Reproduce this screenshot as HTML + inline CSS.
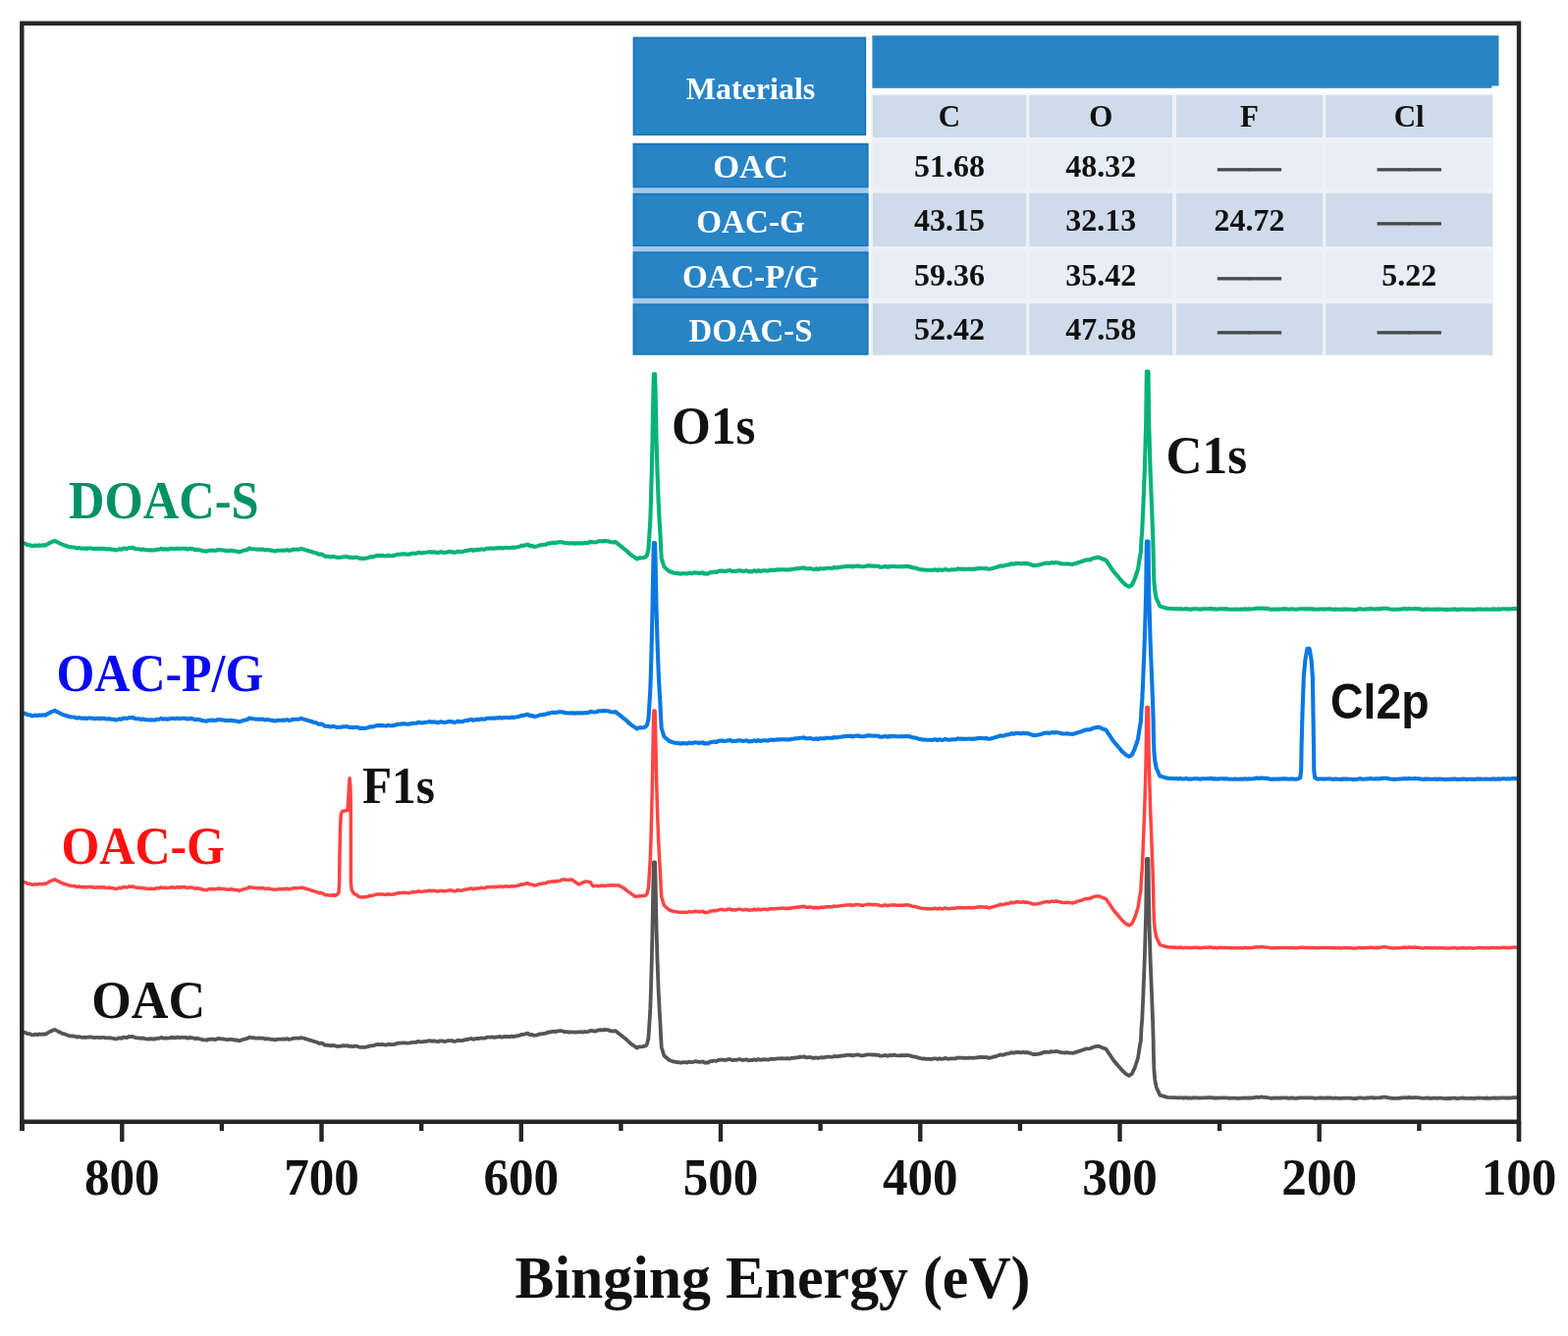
<!DOCTYPE html>
<html><head><meta charset="utf-8"><title>XPS survey spectra</title>
<style>
html,body{margin:0;padding:0;background:#fff;}
body{width:1597px;height:1361px;overflow:hidden;}
svg{display:block;}
</style></head>
<body>
<svg width="1597" height="1361" viewBox="0 0 1597 1361">
<rect width="1597" height="1361" fill="#fff"/>
<g id="table">
<rect x="888.4" y="36.2" width="631" height="53.6" fill="#2884c5"/>
<rect x="1519" y="36.2" width="7.5" height="51.3" fill="#2884c5"/>
<rect x="645.6" y="38.6" width="235.6" height="98.5" fill="#2884c5" stroke="#1a79be" stroke-width="2"/>
<rect x="887" y="95.5" width="634" height="267" fill="#eef2f8"/>
<rect x="889.0" y="97" width="156.0" height="43" fill="#cfdbea"/>
<rect x="1048.5" y="97" width="145.5" height="43" fill="#cfdbea"/>
<rect x="1198.0" y="97" width="149.0" height="43" fill="#cfdbea"/>
<rect x="1350.5" y="97" width="169.5" height="43" fill="#cfdbea"/>
<rect x="644.6" y="145.5" width="240" height="216.5" fill="#a9c8e6"/>
<rect x="645.6" y="147.0" width="238" height="43.3" fill="#2884c5" stroke="#1a79be" stroke-width="2"/>
<rect x="889.0" y="146.0" width="156.0" height="45.3" fill="#e8eef7"/>
<rect x="1048.5" y="146.0" width="145.5" height="45.3" fill="#e8eef7"/>
<rect x="1198.0" y="146.0" width="149.0" height="45.3" fill="#e8eef7"/>
<rect x="1350.5" y="146.0" width="169.5" height="45.3" fill="#e8eef7"/>
<rect x="645.6" y="197.8" width="238" height="52.2" fill="#2884c5" stroke="#1a79be" stroke-width="2"/>
<rect x="889.0" y="196.8" width="156.0" height="54.2" fill="#cfdbea"/>
<rect x="1048.5" y="196.8" width="145.5" height="54.2" fill="#cfdbea"/>
<rect x="1198.0" y="196.8" width="149.0" height="54.2" fill="#cfdbea"/>
<rect x="1350.5" y="196.8" width="169.5" height="54.2" fill="#cfdbea"/>
<rect x="645.6" y="257.3" width="238" height="45.5" fill="#2884c5" stroke="#1a79be" stroke-width="2"/>
<rect x="889.0" y="256.3" width="156.0" height="47.5" fill="#e8eef7"/>
<rect x="1048.5" y="256.3" width="145.5" height="47.5" fill="#e8eef7"/>
<rect x="1198.0" y="256.3" width="149.0" height="47.5" fill="#e8eef7"/>
<rect x="1350.5" y="256.3" width="169.5" height="47.5" fill="#e8eef7"/>
<rect x="645.6" y="310.3" width="238" height="50.3" fill="#2884c5" stroke="#1a79be" stroke-width="2"/>
<rect x="889.0" y="309.3" width="156.0" height="52.3" fill="#cfdbea"/>
<rect x="1048.5" y="309.3" width="145.5" height="52.3" fill="#cfdbea"/>
<rect x="1198.0" y="309.3" width="149.0" height="52.3" fill="#cfdbea"/>
<rect x="1350.5" y="309.3" width="169.5" height="52.3" fill="#cfdbea"/>
</g>
<g font-family='"Liberation Serif","Times New Roman",serif' font-weight="bold" text-anchor="middle" fill="#111">
<text x="764.5" y="101" fill="#fff" font-size="32">Materials</text>
<text x="967.0" y="128.5" font-size="31">C</text>
<text x="1121.2" y="128.5" font-size="31">O</text>
<text x="1272.5" y="128.5" font-size="31">F</text>
<text x="1435.2" y="128.5" font-size="31">Cl</text>
<text transform="translate(764.5 181.0) scale(1.000 1)" fill="#fff" font-size="34.5">OAC</text>
<text x="967.0" y="180.2" font-size="32">51.68</text>
<text x="1121.2" y="180.2" font-size="32">48.32</text>
<text transform="translate(764.5 237.2) scale(0.960 1)" fill="#fff" font-size="34.5">OAC-G</text>
<text x="967.0" y="235.1" font-size="32">43.15</text>
<text x="1121.2" y="235.1" font-size="32">32.13</text>
<text x="1272.5" y="235.1" font-size="32">24.72</text>
<text transform="translate(764.5 292.5) scale(0.955 1)" fill="#fff" font-size="34.5">OAC-P/G</text>
<text x="967.0" y="290.7" font-size="32">59.36</text>
<text x="1121.2" y="290.7" font-size="32">35.42</text>
<text x="1435.2" y="290.7" font-size="32">5.22</text>
<text transform="translate(764.5 348.2) scale(0.953 1)" fill="#fff" font-size="34.5">DOAC-S</text>
<text x="967.0" y="345.7" font-size="32">52.42</text>
<text x="1121.2" y="345.7" font-size="32">47.58</text>
<text x="1272.5" y="180.2" font-size="32" fill="#4a4a4a" stroke="#4a4a4a" stroke-width="0.9">——</text>
<text x="1435.2" y="180.2" font-size="32" fill="#4a4a4a" stroke="#4a4a4a" stroke-width="0.9">——</text>
<text x="1435.2" y="235.1" font-size="32" fill="#4a4a4a" stroke="#4a4a4a" stroke-width="0.9">——</text>
<text x="1272.5" y="290.7" font-size="32" fill="#4a4a4a" stroke="#4a4a4a" stroke-width="0.9">——</text>
<text x="1272.5" y="345.7" font-size="32" fill="#4a4a4a" stroke="#4a4a4a" stroke-width="0.9">——</text>
<text x="1435.2" y="345.7" font-size="32" fill="#4a4a4a" stroke="#4a4a4a" stroke-width="0.9">——</text>
</g>
<g fill="none" stroke-linejoin="round" stroke-linecap="round">
<path d="M22.5 1051.5L23.8 1051.6L26.0 1052.0L28.1 1053.2L30.3 1053.2L32.5 1054.3L34.4 1054.1L36.2 1053.6L38.1 1054.1L40.0 1053.4L42.1 1053.8L44.2 1053.3L46.3 1053.6L48.4 1052.3L50.5 1051.1L52.2 1050.2L54.0 1049.6L55.7 1048.9L58.0 1050.1L60.3 1051.2L62.6 1052.4L64.6 1053.2L66.6 1053.7L68.6 1054.5L70.6 1055.1L72.6 1055.4L74.5 1055.5L76.5 1055.8L78.4 1056.6L80.3 1056.0L82.3 1056.6L84.2 1056.8L86.1 1056.6L88.1 1056.9L90.0 1056.5L92.0 1056.5L93.9 1056.6L95.9 1057.2L97.9 1056.9L99.8 1056.8L101.8 1057.1L103.8 1056.9L105.7 1056.8L107.7 1057.4L109.7 1057.4L111.7 1057.1L113.7 1057.7L115.7 1057.8L117.7 1058.5L119.7 1058.1L121.6 1057.3L123.6 1057.9L125.5 1056.6L127.5 1056.8L129.4 1057.0L131.4 1056.0L133.3 1056.2L135.3 1055.9L137.3 1056.9L139.4 1057.3L141.4 1057.3L143.4 1057.9L145.4 1057.4L147.5 1058.1L149.5 1058.3L151.5 1058.5L153.6 1058.2L155.7 1058.5L157.8 1058.5L159.9 1057.7L161.9 1057.8L164.0 1056.9L166.1 1057.6L168.2 1057.3L170.3 1057.6L172.4 1057.4L174.5 1056.8L176.6 1057.0L178.6 1057.3L180.7 1056.6L182.8 1057.2L184.9 1056.8L187.0 1056.8L189.1 1056.8L191.1 1057.7L193.2 1056.9L195.3 1057.1L197.2 1057.5L199.1 1058.3L200.9 1057.6L202.8 1058.3L204.7 1058.6L206.6 1059.3L208.4 1059.4L210.3 1059.7L212.2 1058.8L214.2 1058.8L216.1 1058.5L218.1 1059.0L220.0 1058.8L222.0 1058.0L224.0 1058.2L225.9 1058.4L227.9 1058.5L229.9 1058.9L231.9 1059.2L233.9 1058.9L235.9 1058.8L237.9 1059.4L239.8 1059.5L241.8 1059.8L243.8 1060.4L245.8 1059.6L247.9 1058.8L249.9 1058.4L251.9 1057.9L254.0 1056.6L256.0 1057.1L258.0 1057.2L260.0 1057.5L262.0 1057.7L264.0 1057.5L266.0 1057.7L268.0 1057.6L270.0 1058.5L272.0 1058.1L274.0 1058.3L276.0 1058.8L278.0 1058.9L280.0 1059.4L282.1 1058.9L284.1 1058.7L286.2 1058.7L288.2 1058.5L290.3 1058.7L292.3 1058.1L294.4 1058.9L296.5 1058.5L298.5 1057.8L300.6 1057.7L302.6 1057.7L304.7 1057.6L306.7 1057.1L308.8 1057.5L310.8 1058.1L312.7 1058.7L314.7 1059.3L316.6 1059.8L318.6 1060.5L320.5 1061.1L322.5 1061.5L324.6 1062.8L326.7 1062.6L328.8 1063.0L330.8 1064.7L332.9 1064.8L335.0 1064.9L337.1 1065.4L339.2 1064.8L341.3 1065.4L343.4 1066.0L345.4 1065.8L347.5 1065.7L349.6 1065.2L351.7 1065.3L353.8 1065.1L355.7 1065.9L357.6 1065.8L359.5 1066.2L361.4 1065.7L363.4 1065.7L365.3 1066.5L367.2 1066.9L369.1 1066.8L371.0 1066.9L373.0 1066.6L375.0 1066.2L377.0 1065.3L379.0 1065.4L381.0 1064.9L383.0 1064.2L385.0 1063.9L387.1 1064.1L389.2 1063.9L391.2 1064.3L393.3 1064.5L395.4 1063.7L397.5 1064.2L399.6 1064.1L401.7 1063.9L403.8 1063.1L405.8 1062.7L407.9 1062.6L410.0 1062.4L412.0 1062.3L414.0 1062.6L415.9 1062.7L417.9 1062.4L419.9 1061.8L421.9 1061.8L423.9 1061.8L425.9 1060.8L427.9 1061.3L429.8 1061.4L431.8 1061.0L433.8 1060.8L435.9 1060.5L437.9 1060.1L439.9 1060.8L442.0 1060.3L444.1 1060.9L446.1 1061.1L448.1 1060.4L450.2 1060.4L452.2 1061.0L454.3 1060.8L456.4 1060.1L458.4 1060.1L460.4 1060.1L462.5 1061.0L464.5 1060.6L466.4 1059.6L468.4 1060.2L470.4 1060.2L472.3 1059.6L474.3 1059.0L476.2 1059.0L478.2 1058.3L480.2 1057.9L482.1 1058.9L484.1 1058.2L486.1 1057.9L488.0 1058.1L490.0 1057.3L491.9 1057.7L493.9 1057.6L495.8 1056.7L497.8 1056.7L499.7 1056.6L501.7 1056.5L503.6 1056.8L505.6 1056.3L507.5 1056.4L509.4 1055.9L511.4 1056.7L513.3 1056.0L515.3 1056.0L517.2 1056.0L519.2 1056.3L521.1 1055.6L523.1 1056.1L525.0 1055.5L527.1 1055.2L529.2 1054.8L531.2 1053.8L533.3 1053.9L535.4 1053.2L537.5 1052.6L539.6 1054.1L541.7 1053.9L543.8 1054.9L545.8 1054.7L547.8 1054.1L549.9 1053.4L551.9 1053.2L553.9 1052.8L556.0 1052.7L558.0 1051.5L560.0 1051.6L562.1 1050.9L564.2 1050.7L566.2 1051.0L568.3 1050.4L570.4 1050.2L572.5 1050.2L575.0 1051.1L577.5 1051.2L579.6 1051.5L581.7 1051.3L583.8 1051.4L585.8 1051.6L587.9 1051.3L590.0 1051.4L591.9 1051.2L593.8 1051.5L595.6 1051.0L597.5 1051.1L599.4 1050.9L601.3 1049.9L603.3 1050.2L605.4 1050.5L607.4 1050.3L609.4 1049.3L611.4 1049.2L613.5 1049.4L615.5 1048.9L617.4 1049.2L619.3 1049.2L621.1 1050.0L623.0 1050.3L624.9 1050.5L626.8 1050.1L628.8 1051.7L630.7 1053.2L632.7 1054.6L634.6 1056.3L636.6 1057.8L638.6 1059.5L640.6 1061.5L642.6 1063.3L644.6 1064.6L646.6 1065.9L648.6 1067.5L650.5 1066.4L652.4 1066.4L654.2 1066.2L656.1 1065.9L657.6 1065.3L659.0 1063.5L660.4 1058.0L661.4 1042.9L662.3 1027.9L663.0 1007.8L663.8 977.7L664.5 947.6L665.0 917.5L665.5 892.4L665.9 878.4L667.1 878.4L667.5 892.4L668.0 917.5L668.6 947.6L669.5 977.7L670.6 1007.8L671.6 1027.9L672.5 1042.9L673.2 1058.0L673.8 1067.0L676.4 1075.5L681.7 1080.0L686.0 1081.5L693.7 1082.6L695.7 1082.1L697.8 1082.2L699.8 1082.5L701.9 1081.6L703.9 1082.1L705.9 1081.9L708.0 1081.2L710.0 1081.5L711.8 1081.9L713.7 1081.8L715.5 1081.3L717.3 1082.5L719.2 1082.3L721.0 1082.6L723.1 1081.2L725.1 1081.1L727.2 1080.5L729.2 1081.0L731.3 1080.1L733.4 1079.6L735.4 1079.6L737.5 1079.9L739.6 1079.8L741.7 1079.2L743.8 1079.1L745.8 1080.1L747.9 1079.7L750.0 1079.9L752.1 1079.2L754.2 1079.2L756.2 1080.0L758.3 1079.7L760.4 1079.3L762.5 1080.4L764.5 1080.0L766.4 1080.1L768.4 1079.2L770.4 1080.1L772.4 1079.0L774.3 1079.9L776.3 1079.4L778.3 1079.2L780.3 1079.3L782.2 1079.7L784.2 1078.9L786.2 1078.6L788.2 1079.0L790.1 1078.6L792.1 1078.4L794.1 1078.4L796.1 1078.2L798.0 1078.3L800.0 1078.4L802.1 1078.2L804.2 1078.5L806.3 1077.8L808.4 1077.8L810.4 1077.3L812.5 1077.3L814.6 1076.7L816.7 1076.8L818.8 1076.3L820.8 1077.3L822.9 1077.2L824.9 1077.0L826.9 1077.4L829.0 1078.1L831.0 1077.3L833.1 1078.0L835.2 1077.3L837.2 1077.2L839.3 1077.4L841.4 1076.7L843.5 1076.7L845.6 1076.7L847.7 1076.9L849.8 1075.9L851.8 1076.4L853.9 1076.0L856.0 1075.8L858.1 1075.4L860.1 1075.3L862.2 1074.9L864.3 1074.9L866.4 1074.7L868.4 1075.5L870.5 1074.8L872.6 1074.6L874.6 1074.5L876.7 1075.3L878.8 1075.3L880.9 1074.9L882.9 1074.4L885.0 1074.3L886.9 1074.4L888.8 1074.7L890.6 1074.4L892.5 1074.8L894.4 1074.7L896.2 1075.6L898.1 1075.7L900.0 1075.3L902.1 1074.9L904.2 1075.8L906.2 1075.0L908.3 1075.1L910.4 1074.7L912.5 1075.2L914.6 1075.3L916.7 1075.3L918.8 1075.0L920.8 1075.4L922.9 1074.8L925.0 1075.1L927.1 1075.4L929.2 1076.3L931.2 1076.4L933.3 1076.8L935.4 1077.7L937.5 1078.1L939.4 1078.5L941.4 1078.5L943.3 1078.8L945.2 1078.7L947.2 1078.8L949.1 1079.0L951.0 1078.4L953.0 1078.3L954.9 1079.1L956.8 1078.2L958.8 1078.9L960.8 1078.7L962.9 1077.9L965.0 1078.7L967.1 1078.7L969.2 1078.3L971.2 1078.3L973.3 1078.3L975.4 1077.4L977.5 1077.7L979.6 1077.6L981.7 1077.9L983.8 1077.8L985.8 1077.8L987.9 1077.5L990.0 1077.9L992.1 1077.6L994.2 1077.6L996.2 1077.1L998.3 1076.8L1000.4 1077.0L1002.5 1077.2L1004.6 1076.9L1006.7 1077.8L1008.8 1077.5L1010.8 1077.0L1012.9 1076.4L1015.0 1075.8L1016.9 1075.2L1018.8 1074.3L1020.6 1074.8L1022.5 1074.4L1024.4 1073.7L1026.2 1073.4L1028.1 1073.2L1030.0 1072.1L1032.0 1072.8L1034.0 1072.1L1036.0 1071.8L1038.0 1072.0L1040.0 1072.4L1042.0 1071.7L1044.0 1072.3L1046.0 1072.0L1048.2 1072.6L1050.3 1073.3L1052.5 1074.1L1054.6 1074.0L1056.6 1073.8L1058.7 1073.3L1060.7 1073.0L1062.8 1072.0L1064.8 1071.8L1066.9 1071.6L1068.9 1071.9L1071.0 1071.1L1073.0 1071.5L1075.0 1071.0L1076.9 1071.2L1078.9 1071.6L1080.9 1072.2L1082.9 1072.4L1084.9 1072.5L1086.9 1072.2L1088.8 1072.6L1090.8 1072.7L1092.8 1072.9L1094.7 1072.2L1096.7 1071.7L1098.6 1070.9L1100.5 1070.4L1102.4 1069.8L1104.4 1069.0L1106.3 1068.4L1108.4 1068.4L1110.5 1068.1L1112.7 1067.0L1114.8 1066.4L1116.9 1065.9L1119.0 1065.9L1120.9 1066.5L1122.8 1067.3L1124.7 1068.0L1126.6 1068.8L1128.4 1071.7L1130.3 1074.3L1132.2 1077.3L1134.0 1080.0L1136.1 1082.5L1138.2 1084.9L1140.3 1087.3L1142.4 1089.9L1144.5 1091.9L1146.5 1093.9L1148.2 1094.8L1149.9 1095.8L1152.8 1094.0L1155.6 1088.1L1157.3 1083.0L1159.0 1078.0L1160.8 1066.0L1161.9 1060.3L1162.5 1047.7L1163.3 1037.6L1164.2 1017.5L1165.0 997.4L1165.8 977.2L1166.5 953.0L1167.2 926.9L1167.6 896.7L1167.9 875.0L1169.5 875.0L1169.8 896.7L1170.2 926.9L1170.9 953.0L1171.6 977.2L1172.4 997.4L1173.2 1017.5L1174.0 1037.6L1174.6 1057.8L1175.0 1077.9L1175.4 1090.0L1176.3 1100.0L1177.7 1107.5L1181.4 1115.6L1189.0 1117.8L1196.0 1118.2L1198.0 1118.1L1200.0 1118.5L1202.0 1118.0L1204.0 1118.5L1206.0 1118.5L1208.0 1118.1L1210.0 1118.6L1212.0 1118.5L1214.0 1118.6L1216.0 1118.2L1218.0 1118.3L1220.0 1118.3L1222.0 1118.7L1224.0 1118.4L1226.0 1118.3L1228.0 1118.3L1230.0 1118.2L1232.0 1118.1L1234.0 1118.1L1236.0 1118.6L1238.0 1118.3L1240.0 1118.7L1242.0 1118.3L1244.0 1118.3L1246.0 1118.4L1248.0 1118.3L1250.0 1118.4L1252.0 1118.8L1254.0 1118.7L1256.0 1118.7L1258.0 1118.6L1260.0 1118.8L1262.0 1118.8L1264.0 1118.6L1266.0 1118.7L1268.0 1118.3L1270.0 1118.7L1272.1 1118.4L1274.2 1118.5L1276.3 1118.3L1278.5 1117.9L1280.6 1117.6L1282.7 1118.0L1284.8 1117.4L1286.8 1117.8L1288.9 1117.9L1290.9 1118.1L1293.0 1118.5L1295.0 1118.9L1296.9 1118.5L1298.9 1118.7L1300.8 1118.5L1302.8 1118.6L1304.7 1118.5L1306.7 1118.4L1308.6 1118.4L1310.6 1118.4L1312.5 1118.8L1314.4 1118.5L1316.4 1118.4L1318.3 1118.8L1320.3 1118.8L1322.2 1118.5L1324.2 1118.3L1326.1 1118.3L1328.1 1118.3L1330.0 1118.4L1332.0 1118.3L1334.0 1118.4L1336.0 1118.4L1338.0 1118.6L1340.0 1118.8L1342.0 1118.7L1344.0 1118.5L1346.0 1118.5L1348.0 1118.6L1350.0 1118.5L1352.0 1118.5L1354.0 1118.4L1356.0 1118.5L1358.0 1118.9L1360.0 1118.5L1362.0 1118.7L1364.0 1118.8L1366.0 1118.9L1368.0 1118.6L1370.0 1118.6L1372.0 1118.6L1374.0 1118.7L1376.0 1118.7L1378.0 1119.1L1380.0 1119.0L1381.9 1119.0L1383.9 1118.4L1385.8 1118.4L1387.8 1118.7L1389.7 1118.8L1391.6 1118.4L1393.6 1118.5L1395.5 1118.1L1397.4 1118.2L1399.4 1118.5L1401.3 1118.4L1403.2 1118.3L1405.2 1118.4L1407.1 1117.9L1409.1 1117.7L1411.0 1117.7L1413.2 1118.1L1415.5 1118.5L1417.8 1118.8L1420.0 1118.9L1422.1 1118.8L1424.2 1118.8L1426.4 1118.5L1428.5 1118.4L1430.6 1118.0L1432.8 1118.4L1434.9 1117.9L1437.0 1118.3L1439.2 1118.2L1441.3 1118.1L1443.5 1118.2L1445.7 1118.4L1447.8 1118.7L1450.0 1118.9L1452.0 1118.6L1454.0 1118.5L1456.0 1118.8L1458.0 1118.8L1460.0 1118.7L1462.0 1118.6L1464.0 1118.9L1466.0 1118.5L1468.0 1118.7L1470.0 1118.8L1472.0 1119.1L1474.0 1118.9L1476.0 1119.0L1478.0 1118.8L1480.0 1118.6L1482.0 1118.6L1484.0 1119.1L1486.0 1118.9L1488.0 1118.7L1490.0 1118.5L1492.0 1118.8L1494.0 1118.9L1496.0 1118.8L1498.0 1118.7L1500.0 1118.9L1502.0 1119.0L1504.0 1118.6L1506.0 1118.5L1508.0 1118.6L1510.0 1118.7L1512.0 1118.8L1514.0 1118.5L1516.0 1118.8L1518.0 1118.8L1520.0 1118.6L1522.0 1118.4L1524.0 1118.8L1526.0 1118.4L1528.0 1118.7L1530.0 1118.3L1531.9 1118.3L1533.8 1118.6L1535.6 1118.3L1537.5 1118.6L1539.4 1118.3L1541.2 1118.1L1543.1 1118.1L1545.0 1118.2" stroke="#555555" stroke-width="3.8"/>
<path d="M22.5 898.5L23.8 898.6L26.0 899.0L28.1 900.2L30.3 900.2L32.5 901.3L34.4 901.1L36.2 900.6L38.1 901.1L40.0 900.4L42.1 900.8L44.2 900.3L46.3 900.6L48.4 899.3L50.5 898.1L52.2 897.2L54.0 896.6L55.7 895.9L58.0 897.1L60.3 898.2L62.6 899.4L64.6 900.2L66.6 900.7L68.6 901.5L70.6 902.1L72.6 902.4L74.5 902.5L76.5 902.8L78.4 903.6L80.3 903.0L82.3 903.6L84.2 903.8L86.1 903.6L88.1 903.9L90.0 903.5L92.0 903.5L93.9 903.6L95.9 904.2L97.9 903.9L99.8 903.8L101.8 904.1L103.8 903.9L105.7 903.8L107.7 904.4L109.7 904.4L111.7 904.1L113.7 904.7L115.7 904.8L117.7 905.5L119.7 905.1L121.6 904.3L123.6 904.9L125.5 903.6L127.5 903.8L129.4 904.0L131.4 903.0L133.3 903.2L135.3 902.9L137.3 903.9L139.4 904.3L141.4 904.3L143.4 904.9L145.4 904.4L147.5 905.1L149.5 905.3L151.5 905.5L153.6 905.2L155.7 905.5L157.8 905.5L159.9 904.7L161.9 904.8L164.0 903.9L166.1 904.6L168.2 904.3L170.3 904.6L172.4 904.4L174.5 903.8L176.6 904.0L178.6 904.3L180.7 903.6L182.8 904.2L184.9 903.8L187.0 903.8L189.1 903.8L191.1 904.7L193.2 903.9L195.3 904.1L197.2 904.5L199.1 905.3L200.9 904.6L202.8 905.3L204.7 905.6L206.6 906.3L208.4 906.4L210.3 906.7L212.2 905.8L214.2 905.8L216.1 905.5L218.1 906.0L220.0 905.8L222.0 905.0L224.0 905.2L225.9 905.4L227.9 905.5L229.9 905.9L231.9 906.2L233.9 905.9L235.9 905.8L237.9 906.4L239.8 906.5L241.8 906.8L243.8 907.4L245.8 906.6L247.9 905.8L249.9 905.4L251.9 904.9L254.0 903.6L256.0 904.1L258.0 904.2L260.0 904.5L262.0 904.7L264.0 904.5L266.0 904.7L268.0 904.6L270.0 905.5L272.0 905.1L274.0 905.3L276.0 905.8L278.0 905.9L280.0 906.4L282.1 905.9L284.1 905.7L286.2 905.7L288.2 905.5L290.3 905.7L292.3 905.1L294.4 905.9L296.5 905.5L298.5 904.8L300.6 904.7L302.6 904.7L304.7 904.6L306.7 904.1L308.8 904.5L310.8 905.1L312.7 905.7L314.7 906.3L316.6 906.8L318.6 907.5L320.5 908.1L322.5 908.5L324.6 909.8L326.7 909.6L328.8 910.0L330.8 911.7L332.9 911.8L335.0 911.9L337.1 912.4L339.2 911.8L341.3 912.4L343.5 911.0L345.0 909.5L345.6 900.0L346.0 870.0L346.5 845.0L347.2 830.0L348.5 826.5L351.0 826.0L354.0 825.5L354.8 815.0L355.5 800.0L356.1 792.8L356.8 800.0L357.2 815.0L357.3 840.0L357.3 880.0L357.4 900.0L358.2 906.5L360.5 910.3L363.0 911.3L365.3 913.5L367.2 913.9L369.1 913.8L371.0 913.9L373.0 913.6L375.0 913.2L377.0 912.3L379.0 912.4L381.0 911.9L383.0 911.2L385.0 910.9L387.1 911.1L389.2 910.9L391.2 911.3L393.3 911.5L395.4 910.7L397.5 911.2L399.6 911.1L401.7 910.9L403.8 910.1L405.8 909.7L407.9 909.6L410.0 909.4L412.0 909.3L414.0 909.6L415.9 909.7L417.9 909.4L419.9 908.8L421.9 908.8L423.9 908.8L425.9 907.8L427.9 908.3L429.8 908.4L431.8 908.0L433.8 907.8L435.9 907.5L437.9 907.1L439.9 907.8L442.0 907.3L444.1 907.9L446.1 908.1L448.1 907.4L450.2 907.4L452.2 908.0L454.3 907.8L456.4 907.1L458.4 907.1L460.4 907.1L462.5 908.0L464.5 907.6L466.4 906.6L468.4 907.2L470.4 907.2L472.3 906.6L474.3 906.0L476.2 906.0L478.2 905.3L480.2 904.9L482.1 905.9L484.1 905.2L486.1 904.9L488.0 905.1L490.0 904.3L491.9 904.7L493.9 904.6L495.8 903.7L497.8 903.7L499.7 903.6L501.7 903.5L503.6 903.8L505.6 903.3L507.5 903.4L509.4 902.9L511.4 903.7L513.3 903.0L515.3 903.0L517.2 903.0L519.2 903.3L521.1 902.6L523.1 903.1L525.0 902.5L527.1 902.2L529.2 901.8L531.2 900.8L533.3 900.9L535.4 900.2L537.5 899.6L539.6 901.1L541.7 900.9L543.8 901.9L545.8 901.7L547.8 901.1L549.9 900.4L551.9 900.2L553.9 899.8L556.0 899.7L558.0 898.5L560.0 898.6L562.1 897.9L564.2 897.7L566.2 898.0L568.3 897.4L570.4 897.2L572.5 896.0L574.5 896.0L576.6 896.3L578.6 896.5L580.7 896.0L582.7 896.3L585.0 897.8L587.3 899.5L589.6 901.0L591.5 900.1L593.4 899.2L595.2 898.4L597.1 897.9L599.0 898.4L601.0 898.5L602.5 900.6L604.0 902.9L605.8 902.4L607.7 902.2L609.5 902.8L611.3 902.6L613.2 902.0L615.0 902.4L616.9 902.2L618.8 902.1L620.7 902.1L622.6 901.9L624.6 901.7L626.5 901.9L628.4 901.9L630.3 902.1L632.6 903.2L635.0 904.5L639.0 907.6L646.6 913.2L655.3 912.6L657.6 912.3L659.0 910.5L660.4 904.9L661.4 889.8L662.3 874.6L663.0 854.4L663.8 824.1L664.5 793.7L665.0 763.4L665.5 738.2L665.9 724.0L667.1 724.0L667.5 738.2L668.0 763.4L668.6 793.7L669.5 824.1L670.6 854.4L671.6 874.6L672.5 889.8L673.2 904.9L673.8 914.0L676.4 922.5L681.7 927.0L686.0 928.5L693.7 929.6L695.7 929.1L697.8 929.2L699.8 929.5L701.9 928.6L703.9 929.1L705.9 928.9L708.0 928.2L710.0 928.5L711.8 928.9L713.7 928.8L715.5 928.3L717.3 929.5L719.2 929.3L721.0 929.6L723.1 928.2L725.1 928.1L727.2 927.5L729.2 928.0L731.3 927.1L733.4 926.6L735.4 926.6L737.5 926.9L739.6 926.8L741.7 926.2L743.8 926.1L745.8 927.1L747.9 926.7L750.0 926.9L752.1 926.2L754.2 926.2L756.2 927.0L758.3 926.7L760.4 926.3L762.5 927.4L764.5 927.0L766.4 927.1L768.4 926.2L770.4 927.1L772.4 926.0L774.3 926.9L776.3 926.4L778.3 926.2L780.3 926.3L782.2 926.7L784.2 925.9L786.2 925.6L788.2 926.0L790.1 925.6L792.1 925.4L794.1 925.4L796.1 925.2L798.0 925.3L800.0 925.4L802.1 925.2L804.2 925.5L806.3 924.8L808.4 924.8L810.4 924.3L812.5 924.3L814.6 923.7L816.7 923.8L818.8 923.3L820.8 924.3L822.9 924.2L824.9 924.0L826.9 924.4L829.0 925.1L831.0 924.3L833.1 925.0L835.2 924.3L837.2 924.2L839.3 924.4L841.4 923.7L843.5 923.7L845.6 923.7L847.7 923.9L849.8 922.9L851.8 923.4L853.9 923.0L856.0 922.8L858.1 922.4L860.1 922.3L862.2 921.9L864.3 921.9L866.4 921.7L868.4 922.5L870.5 921.8L872.6 921.6L874.6 921.5L876.7 922.3L878.8 922.3L880.9 921.9L882.9 921.4L885.0 921.3L886.9 921.4L888.8 921.7L890.6 921.4L892.5 921.8L894.4 921.7L896.2 922.6L898.1 922.7L900.0 922.3L902.1 921.9L904.2 922.8L906.2 922.0L908.3 922.1L910.4 921.7L912.5 922.2L914.6 922.3L916.7 922.3L918.8 922.0L920.8 922.4L922.9 921.8L925.0 922.1L927.1 922.4L929.2 923.3L931.2 923.4L933.3 923.8L935.4 924.7L937.5 925.1L939.4 925.5L941.4 925.5L943.3 925.8L945.2 925.7L947.2 925.8L949.1 926.0L951.0 925.4L953.0 925.3L954.9 926.1L956.8 925.2L958.8 925.9L960.8 925.7L962.9 924.9L965.0 925.7L967.1 925.7L969.2 925.3L971.2 925.3L973.3 925.3L975.4 924.4L977.5 924.7L979.6 924.6L981.7 924.9L983.8 924.8L985.8 924.8L987.9 924.5L990.0 924.9L992.1 924.6L994.2 924.6L996.2 924.1L998.3 923.8L1000.4 924.0L1002.5 924.2L1004.6 923.9L1006.7 924.8L1008.8 924.5L1010.8 924.0L1012.9 923.4L1015.0 922.8L1016.9 922.2L1018.8 921.3L1020.6 921.8L1022.5 921.4L1024.4 920.7L1026.2 920.4L1028.1 920.2L1030.0 919.1L1032.0 919.8L1034.0 919.1L1036.0 918.8L1038.0 919.0L1040.0 919.4L1042.0 918.7L1044.0 919.3L1046.0 919.0L1048.2 919.6L1050.3 920.3L1052.5 921.1L1054.6 921.0L1056.6 920.8L1058.7 920.3L1060.7 920.0L1062.8 919.0L1064.8 918.8L1066.9 918.6L1068.9 918.9L1071.0 918.1L1073.0 918.5L1075.0 918.0L1076.9 918.2L1078.9 918.6L1080.9 919.2L1082.9 919.4L1084.9 919.5L1086.9 919.2L1088.8 919.6L1090.8 919.7L1092.8 919.9L1094.7 919.2L1096.7 918.7L1098.6 917.9L1100.5 917.4L1102.4 916.8L1104.4 916.0L1106.3 915.4L1108.4 915.4L1110.5 915.1L1112.7 914.0L1114.8 913.4L1116.9 912.9L1119.0 912.9L1120.9 913.5L1122.8 914.3L1124.7 915.0L1126.6 915.8L1128.4 918.7L1130.3 921.3L1132.2 924.3L1134.0 927.0L1136.1 929.5L1138.2 931.9L1140.3 934.3L1142.4 936.9L1144.5 938.9L1146.5 940.9L1148.2 941.8L1149.9 942.8L1152.8 941.0L1155.6 935.1L1157.3 930.0L1159.0 925.0L1160.8 913.0L1161.9 907.1L1162.5 894.4L1163.3 884.3L1164.2 864.0L1165.0 843.7L1165.8 823.4L1166.5 799.1L1167.2 772.7L1167.6 742.3L1167.9 720.5L1169.5 720.5L1169.8 742.3L1170.2 772.7L1170.9 799.1L1171.6 823.4L1172.4 843.7L1173.2 864.0L1174.0 884.3L1174.6 904.6L1175.0 924.9L1175.4 937.0L1176.3 947.0L1177.7 954.5L1181.4 962.6L1189.0 964.8L1196.0 965.2L1198.0 965.1L1200.0 965.5L1202.0 965.0L1204.0 965.5L1206.0 965.5L1208.0 965.1L1210.0 965.6L1212.0 965.5L1214.0 965.6L1216.0 965.2L1218.0 965.3L1220.0 965.3L1222.0 965.7L1224.0 965.4L1226.0 965.3L1228.0 965.3L1230.0 965.2L1232.0 965.1L1234.0 965.1L1236.0 965.6L1238.0 965.3L1240.0 965.7L1242.0 965.3L1244.0 965.3L1246.0 965.4L1248.0 965.3L1250.0 965.4L1252.0 965.8L1254.0 965.7L1256.0 965.7L1258.0 965.6L1260.0 965.8L1262.0 965.8L1264.0 965.6L1266.0 965.7L1268.0 965.3L1270.0 965.7L1272.1 965.4L1274.2 965.5L1276.3 965.3L1278.5 964.9L1280.6 964.6L1282.7 965.0L1284.8 964.4L1286.8 964.8L1288.9 964.9L1290.9 965.1L1293.0 965.5L1295.0 965.9L1296.9 965.5L1298.9 965.7L1300.8 965.5L1302.8 965.6L1304.7 965.5L1306.7 965.4L1308.6 965.4L1310.6 965.4L1312.5 965.8L1314.4 965.5L1316.4 965.4L1318.3 965.8L1320.3 965.8L1322.2 965.5L1324.2 965.3L1326.1 965.3L1328.1 965.3L1330.0 965.4L1332.0 965.3L1334.0 965.4L1336.0 965.4L1338.0 965.6L1340.0 965.8L1342.0 965.7L1344.0 965.5L1346.0 965.5L1348.0 965.6L1350.0 965.5L1352.0 965.5L1354.0 965.4L1356.0 965.5L1358.0 965.9L1360.0 965.5L1362.0 965.7L1364.0 965.8L1366.0 965.9L1368.0 965.6L1370.0 965.6L1372.0 965.6L1374.0 965.7L1376.0 965.7L1378.0 966.1L1380.0 966.0L1381.9 966.0L1383.9 965.4L1385.8 965.4L1387.8 965.7L1389.7 965.8L1391.6 965.4L1393.6 965.5L1395.5 965.1L1397.4 965.2L1399.4 965.5L1401.3 965.4L1403.2 965.3L1405.2 965.4L1407.1 964.9L1409.1 964.7L1411.0 964.7L1413.2 965.1L1415.5 965.5L1417.8 965.8L1420.0 965.9L1422.1 965.8L1424.2 965.8L1426.4 965.5L1428.5 965.4L1430.6 965.0L1432.8 965.4L1434.9 964.9L1437.0 965.3L1439.2 965.2L1441.3 965.1L1443.5 965.2L1445.7 965.4L1447.8 965.7L1450.0 965.9L1452.0 965.6L1454.0 965.5L1456.0 965.8L1458.0 965.8L1460.0 965.7L1462.0 965.6L1464.0 965.9L1466.0 965.5L1468.0 965.7L1470.0 965.8L1472.0 966.1L1474.0 965.9L1476.0 966.0L1478.0 965.8L1480.0 965.6L1482.0 965.6L1484.0 966.1L1486.0 965.9L1488.0 965.7L1490.0 965.5L1492.0 965.8L1494.0 965.9L1496.0 965.8L1498.0 965.7L1500.0 965.9L1502.0 966.0L1504.0 965.6L1506.0 965.5L1508.0 965.6L1510.0 965.7L1512.0 965.8L1514.0 965.5L1516.0 965.8L1518.0 965.8L1520.0 965.6L1522.0 965.4L1524.0 965.8L1526.0 965.4L1528.0 965.7L1530.0 965.3L1531.9 965.3L1533.8 965.6L1535.6 965.3L1537.5 965.6L1539.4 965.3L1541.2 965.1L1543.1 965.1L1545.0 965.2" stroke="#ff4444" stroke-width="3.5"/>
<path d="M22.5 726.5L23.8 726.6L26.0 727.0L28.1 728.2L30.3 728.2L32.5 729.3L34.4 729.1L36.2 728.6L38.1 729.1L40.0 728.4L42.1 728.8L44.2 728.3L46.3 728.6L48.4 727.3L50.5 726.1L52.2 725.2L54.0 724.6L55.7 723.9L58.0 725.1L60.3 726.2L62.6 727.4L64.6 728.2L66.6 728.7L68.6 729.5L70.6 730.1L72.6 730.4L74.5 730.5L76.5 730.8L78.4 731.6L80.3 731.0L82.3 731.6L84.2 731.8L86.1 731.6L88.1 731.9L90.0 731.5L92.0 731.5L93.9 731.6L95.9 732.2L97.9 731.9L99.8 731.8L101.8 732.1L103.8 731.9L105.7 731.8L107.7 732.4L109.7 732.4L111.7 732.1L113.7 732.7L115.7 732.8L117.7 733.5L119.7 733.1L121.6 732.3L123.6 732.9L125.5 731.6L127.5 731.8L129.4 732.0L131.4 731.0L133.3 731.2L135.3 730.9L137.3 731.9L139.4 732.3L141.4 732.3L143.4 732.9L145.4 732.4L147.5 733.1L149.5 733.3L151.5 733.5L153.6 733.2L155.7 733.5L157.8 733.5L159.9 732.7L161.9 732.8L164.0 731.9L166.1 732.6L168.2 732.3L170.3 732.6L172.4 732.4L174.5 731.8L176.6 732.0L178.6 732.3L180.7 731.6L182.8 732.2L184.9 731.8L187.0 731.8L189.1 731.8L191.1 732.7L193.2 731.9L195.3 732.1L197.2 732.5L199.1 733.3L200.9 732.6L202.8 733.3L204.7 733.6L206.6 734.3L208.4 734.4L210.3 734.7L212.2 733.8L214.2 733.8L216.1 733.5L218.1 734.0L220.0 733.8L222.0 733.0L224.0 733.2L225.9 733.4L227.9 733.5L229.9 733.9L231.9 734.2L233.9 733.9L235.9 733.8L237.9 734.4L239.8 734.5L241.8 734.8L243.8 735.4L245.8 734.6L247.9 733.8L249.9 733.4L251.9 732.9L254.0 731.6L256.0 732.1L258.0 732.2L260.0 732.5L262.0 732.7L264.0 732.5L266.0 732.7L268.0 732.6L270.0 733.5L272.0 733.1L274.0 733.3L276.0 733.8L278.0 733.9L280.0 734.4L282.1 733.9L284.1 733.7L286.2 733.7L288.2 733.5L290.3 733.7L292.3 733.1L294.4 733.9L296.5 733.5L298.5 732.8L300.6 732.7L302.6 732.7L304.7 732.6L306.7 732.1L308.8 732.5L310.8 733.1L312.7 733.7L314.7 734.3L316.6 734.8L318.6 735.5L320.5 736.1L322.5 736.5L324.6 737.8L326.7 737.6L328.8 738.0L330.8 739.7L332.9 739.8L335.0 739.9L337.1 740.4L339.2 739.8L341.3 740.4L343.4 741.0L345.4 740.8L347.5 740.7L349.6 740.2L351.7 740.3L353.8 740.1L355.7 740.9L357.6 740.8L359.5 741.2L361.4 740.7L363.4 740.7L365.3 741.5L367.2 741.9L369.1 741.8L371.0 741.9L373.0 741.6L375.0 741.2L377.0 740.3L379.0 740.4L381.0 739.9L383.0 739.2L385.0 738.9L387.1 739.1L389.2 738.9L391.2 739.3L393.3 739.5L395.4 738.7L397.5 739.2L399.6 739.1L401.7 738.9L403.8 738.1L405.8 737.7L407.9 737.6L410.0 737.4L412.0 737.3L414.0 737.6L415.9 737.7L417.9 737.4L419.9 736.8L421.9 736.8L423.9 736.8L425.9 735.8L427.9 736.3L429.8 736.4L431.8 736.0L433.8 735.8L435.9 735.5L437.9 735.1L439.9 735.8L442.0 735.3L444.1 735.9L446.1 736.1L448.1 735.4L450.2 735.4L452.2 736.0L454.3 735.8L456.4 735.1L458.4 735.1L460.4 735.1L462.5 736.0L464.5 735.6L466.4 734.6L468.4 735.2L470.4 735.2L472.3 734.6L474.3 734.0L476.2 734.0L478.2 733.3L480.2 732.9L482.1 733.9L484.1 733.2L486.1 732.9L488.0 733.1L490.0 732.3L491.9 732.7L493.9 732.6L495.8 731.7L497.8 731.7L499.7 731.6L501.7 731.5L503.6 731.8L505.6 731.3L507.5 731.4L509.4 730.9L511.4 731.7L513.3 731.0L515.3 731.0L517.2 731.0L519.2 731.3L521.1 730.6L523.1 731.1L525.0 730.5L527.1 730.2L529.2 729.8L531.2 728.8L533.3 728.9L535.4 728.2L537.5 727.6L539.6 729.1L541.7 728.9L543.8 729.9L545.8 729.7L547.8 729.1L549.9 728.4L551.9 728.2L553.9 727.8L556.0 727.7L558.0 726.5L560.0 726.6L562.1 725.9L564.2 725.7L566.2 726.0L568.3 725.4L570.4 725.2L572.5 725.2L575.0 726.1L577.5 726.2L579.6 726.5L581.7 726.3L583.8 726.4L585.8 726.6L587.9 726.3L590.0 726.4L591.9 726.2L593.8 726.5L595.6 726.0L597.5 726.1L599.4 725.9L601.3 724.9L603.3 725.2L605.4 725.5L607.4 725.3L609.4 724.3L611.4 724.2L613.5 724.4L615.5 723.9L617.4 724.2L619.3 724.2L621.1 725.0L623.0 725.3L624.9 725.5L626.8 725.1L628.8 726.7L630.7 728.2L632.7 729.6L634.6 731.3L636.6 732.8L638.6 734.5L640.6 736.5L642.6 738.3L644.6 739.6L646.6 740.9L648.6 742.5L650.5 741.4L652.4 741.4L654.2 741.2L656.1 740.9L657.6 740.3L659.0 738.5L660.4 733.0L661.4 717.9L662.3 702.8L663.0 682.7L663.8 652.5L664.5 622.4L665.0 592.2L665.5 567.1L665.9 553.0L667.1 553.0L667.5 567.1L668.0 592.2L668.6 622.4L669.5 652.5L670.6 682.7L671.6 702.8L672.5 717.9L673.2 733.0L673.8 742.0L676.4 750.5L681.7 755.0L686.0 756.5L693.7 757.6L695.7 757.1L697.8 757.2L699.8 757.5L701.9 756.6L703.9 757.1L705.9 756.9L708.0 756.2L710.0 756.5L711.8 756.9L713.7 756.8L715.5 756.3L717.3 757.5L719.2 757.3L721.0 757.6L723.1 756.2L725.1 756.1L727.2 755.5L729.2 756.0L731.3 755.1L733.4 754.6L735.4 754.6L737.5 754.9L739.6 754.8L741.7 754.2L743.8 754.1L745.8 755.1L747.9 754.7L750.0 754.9L752.1 754.2L754.2 754.2L756.2 755.0L758.3 754.7L760.4 754.3L762.5 755.4L764.5 755.0L766.4 755.1L768.4 754.2L770.4 755.1L772.4 754.0L774.3 754.9L776.3 754.4L778.3 754.2L780.3 754.3L782.2 754.7L784.2 753.9L786.2 753.6L788.2 754.0L790.1 753.6L792.1 753.4L794.1 753.4L796.1 753.2L798.0 753.3L800.0 753.4L802.1 753.2L804.2 753.5L806.3 752.8L808.4 752.8L810.4 752.3L812.5 752.3L814.6 751.7L816.7 751.8L818.8 751.3L820.8 752.3L822.9 752.2L824.9 752.0L826.9 752.4L829.0 753.1L831.0 752.3L833.1 753.0L835.2 752.3L837.2 752.2L839.3 752.4L841.4 751.7L843.5 751.7L845.6 751.7L847.7 751.9L849.8 750.9L851.8 751.4L853.9 751.0L856.0 750.8L858.1 750.4L860.1 750.3L862.2 749.9L864.3 749.9L866.4 749.7L868.4 750.5L870.5 749.8L872.6 749.6L874.6 749.5L876.7 750.3L878.8 750.3L880.9 749.9L882.9 749.4L885.0 749.3L886.9 749.4L888.8 749.7L890.6 749.4L892.5 749.8L894.4 749.7L896.2 750.6L898.1 750.7L900.0 750.3L902.1 749.9L904.2 750.8L906.2 750.0L908.3 750.1L910.4 749.7L912.5 750.2L914.6 750.3L916.7 750.3L918.8 750.0L920.8 750.4L922.9 749.8L925.0 750.1L927.1 750.4L929.2 751.3L931.2 751.4L933.3 751.8L935.4 752.7L937.5 753.1L939.4 753.5L941.4 753.5L943.3 753.8L945.2 753.7L947.2 753.8L949.1 754.0L951.0 753.4L953.0 753.3L954.9 754.1L956.8 753.2L958.8 753.9L960.8 753.7L962.9 752.9L965.0 753.7L967.1 753.7L969.2 753.3L971.2 753.3L973.3 753.3L975.4 752.4L977.5 752.7L979.6 752.6L981.7 752.9L983.8 752.8L985.8 752.8L987.9 752.5L990.0 752.9L992.1 752.6L994.2 752.6L996.2 752.1L998.3 751.8L1000.4 752.0L1002.5 752.2L1004.6 751.9L1006.7 752.8L1008.8 752.5L1010.8 752.0L1012.9 751.4L1015.0 750.8L1016.9 750.2L1018.8 749.3L1020.6 749.8L1022.5 749.4L1024.4 748.7L1026.2 748.4L1028.1 748.2L1030.0 747.1L1032.0 747.8L1034.0 747.1L1036.0 746.8L1038.0 747.0L1040.0 747.4L1042.0 746.7L1044.0 747.3L1046.0 747.0L1048.2 747.6L1050.3 748.3L1052.5 749.1L1054.6 749.0L1056.6 748.8L1058.7 748.3L1060.7 748.0L1062.8 747.0L1064.8 746.8L1066.9 746.6L1068.9 746.9L1071.0 746.1L1073.0 746.5L1075.0 746.0L1076.9 746.2L1078.9 746.6L1080.9 747.2L1082.9 747.4L1084.9 747.5L1086.9 747.2L1088.8 747.6L1090.8 747.7L1092.8 747.9L1094.7 747.2L1096.7 746.7L1098.6 745.9L1100.5 745.4L1102.4 744.8L1104.4 744.0L1106.3 743.4L1108.4 743.4L1110.5 743.1L1112.7 742.0L1114.8 741.4L1116.9 740.9L1119.0 740.9L1120.9 741.5L1122.8 742.3L1124.7 743.0L1126.6 743.8L1128.4 746.7L1130.3 749.3L1132.2 752.3L1134.0 755.0L1136.1 757.5L1138.2 759.9L1140.3 762.3L1142.4 764.9L1144.5 766.9L1146.5 768.9L1148.2 769.8L1149.9 770.8L1152.8 769.0L1155.6 763.1L1157.3 758.0L1159.0 753.0L1160.8 741.0L1161.9 735.5L1162.5 723.0L1163.3 713.0L1164.2 693.0L1165.0 673.0L1165.8 653.0L1166.5 629.0L1167.2 603.0L1167.6 573.0L1167.9 551.5L1169.5 551.5L1169.8 573.0L1170.2 603.0L1170.9 629.0L1171.6 653.0L1172.4 673.0L1173.2 693.0L1174.0 713.0L1174.6 733.0L1175.0 753.0L1175.4 765.0L1176.3 775.0L1177.7 782.5L1181.4 790.6L1189.0 792.8L1196.0 793.2L1198.0 793.1L1200.0 793.5L1202.0 793.0L1204.0 793.5L1206.0 793.5L1208.0 793.1L1210.0 793.6L1212.0 793.5L1214.0 793.6L1216.0 793.2L1218.0 793.3L1220.0 793.3L1222.0 793.7L1224.0 793.4L1226.0 793.3L1228.0 793.3L1230.0 793.2L1232.0 793.1L1234.0 793.1L1236.0 793.6L1238.0 793.3L1240.0 793.7L1242.0 793.3L1244.0 793.3L1246.0 793.4L1248.0 793.3L1250.0 793.4L1252.0 793.8L1254.0 793.7L1256.0 793.7L1258.0 793.6L1260.0 793.8L1262.0 793.8L1264.0 793.6L1266.0 793.7L1268.0 793.3L1270.0 793.7L1272.1 793.4L1274.2 793.5L1276.3 793.3L1278.5 792.9L1280.6 792.6L1282.7 793.0L1284.8 792.4L1286.8 792.8L1288.9 792.9L1290.9 793.1L1293.0 793.5L1295.0 793.9L1296.9 793.5L1298.9 793.7L1300.8 793.5L1302.8 793.6L1304.7 793.5L1306.7 793.4L1308.6 793.4L1310.6 793.4L1312.5 793.8L1314.4 793.5L1316.4 793.4L1318.3 793.8L1320.3 793.8L1322.5 793.2L1324.3 792.2L1325.2 785.0L1325.6 760.0L1326.5 727.0L1327.8 690.0L1329.4 672.0L1331.4 660.8L1333.6 660.8L1335.6 672.0L1336.9 690.0L1337.5 727.0L1338.0 760.0L1338.3 785.0L1339.2 792.2L1341.0 793.2L1342.0 793.7L1344.0 793.5L1346.0 793.5L1348.0 793.6L1350.0 793.5L1352.0 793.5L1354.0 793.4L1356.0 793.5L1358.0 793.9L1360.0 793.5L1362.0 793.7L1364.0 793.8L1366.0 793.9L1368.0 793.6L1370.0 793.6L1372.0 793.6L1374.0 793.7L1376.0 793.7L1378.0 794.1L1380.0 794.0L1381.9 794.0L1383.9 793.4L1385.8 793.4L1387.8 793.7L1389.7 793.8L1391.6 793.4L1393.6 793.5L1395.5 793.1L1397.4 793.2L1399.4 793.5L1401.3 793.4L1403.2 793.3L1405.2 793.4L1407.1 792.9L1409.1 792.7L1411.0 792.7L1413.2 793.1L1415.5 793.5L1417.8 793.8L1420.0 793.9L1422.1 793.8L1424.2 793.8L1426.4 793.5L1428.5 793.4L1430.6 793.0L1432.8 793.4L1434.9 792.9L1437.0 793.3L1439.2 793.2L1441.3 793.1L1443.5 793.2L1445.7 793.4L1447.8 793.7L1450.0 793.9L1452.0 793.6L1454.0 793.5L1456.0 793.8L1458.0 793.8L1460.0 793.7L1462.0 793.6L1464.0 793.9L1466.0 793.5L1468.0 793.7L1470.0 793.8L1472.0 794.1L1474.0 793.9L1476.0 794.0L1478.0 793.8L1480.0 793.6L1482.0 793.6L1484.0 794.1L1486.0 793.9L1488.0 793.7L1490.0 793.5L1492.0 793.8L1494.0 793.9L1496.0 793.8L1498.0 793.7L1500.0 793.9L1502.0 794.0L1504.0 793.6L1506.0 793.5L1508.0 793.6L1510.0 793.7L1512.0 793.8L1514.0 793.5L1516.0 793.8L1518.0 793.8L1520.0 793.6L1522.0 793.4L1524.0 793.8L1526.0 793.4L1528.0 793.7L1530.0 793.3L1531.9 793.3L1533.8 793.6L1535.6 793.3L1537.5 793.6L1539.4 793.3L1541.2 793.1L1543.1 793.1L1545.0 793.2" stroke="#0a78e4" stroke-width="4.1"/>
<path d="M22.5 553.5L23.8 553.6L26.0 554.0L28.1 555.2L30.3 555.2L32.5 556.3L34.4 556.1L36.2 555.6L38.1 556.1L40.0 555.4L42.1 555.8L44.2 555.3L46.3 555.6L48.4 554.3L50.5 553.1L52.2 552.2L54.0 551.6L55.7 550.9L58.0 552.1L60.3 553.2L62.6 554.4L64.6 555.2L66.6 555.7L68.6 556.5L70.6 557.1L72.6 557.4L74.5 557.5L76.5 557.8L78.4 558.6L80.3 558.0L82.3 558.6L84.2 558.8L86.1 558.6L88.1 558.9L90.0 558.5L92.0 558.5L93.9 558.6L95.9 559.2L97.9 558.9L99.8 558.8L101.8 559.1L103.8 558.9L105.7 558.8L107.7 559.4L109.7 559.4L111.7 559.1L113.7 559.7L115.7 559.8L117.7 560.5L119.7 560.1L121.6 559.3L123.6 559.9L125.5 558.6L127.5 558.8L129.4 559.0L131.4 558.0L133.3 558.2L135.3 557.9L137.3 558.9L139.4 559.3L141.4 559.3L143.4 559.9L145.4 559.4L147.5 560.1L149.5 560.3L151.5 560.5L153.6 560.2L155.7 560.5L157.8 560.5L159.9 559.7L161.9 559.8L164.0 558.9L166.1 559.6L168.2 559.3L170.3 559.6L172.4 559.4L174.5 558.8L176.6 559.0L178.6 559.3L180.7 558.6L182.8 559.2L184.9 558.8L187.0 558.8L189.1 558.8L191.1 559.7L193.2 558.9L195.3 559.1L197.2 559.5L199.1 560.3L200.9 559.6L202.8 560.3L204.7 560.6L206.6 561.3L208.4 561.4L210.3 561.7L212.2 560.8L214.2 560.8L216.1 560.5L218.1 561.0L220.0 560.8L222.0 560.0L224.0 560.2L225.9 560.4L227.9 560.5L229.9 560.9L231.9 561.2L233.9 560.9L235.9 560.8L237.9 561.4L239.8 561.5L241.8 561.8L243.8 562.4L245.8 561.6L247.9 560.8L249.9 560.4L251.9 559.9L254.0 558.6L256.0 559.1L258.0 559.2L260.0 559.5L262.0 559.7L264.0 559.5L266.0 559.7L268.0 559.6L270.0 560.5L272.0 560.1L274.0 560.3L276.0 560.8L278.0 560.9L280.0 561.4L282.1 560.9L284.1 560.7L286.2 560.7L288.2 560.5L290.3 560.7L292.3 560.1L294.4 560.9L296.5 560.5L298.5 559.8L300.6 559.7L302.6 559.7L304.7 559.6L306.7 559.1L308.8 559.5L310.8 560.1L312.7 560.7L314.7 561.3L316.6 561.8L318.6 562.5L320.5 563.1L322.5 563.5L324.6 564.8L326.7 564.6L328.8 565.0L330.8 566.7L332.9 566.8L335.0 566.9L337.1 567.4L339.2 566.8L341.3 567.4L343.4 568.0L345.4 567.8L347.5 567.7L349.6 567.2L351.7 567.3L353.8 567.1L355.7 567.9L357.6 567.8L359.5 568.2L361.4 567.7L363.4 567.7L365.3 568.5L367.2 568.9L369.1 568.8L371.0 568.9L373.0 568.6L375.0 568.2L377.0 567.3L379.0 567.4L381.0 566.9L383.0 566.2L385.0 565.9L387.1 566.1L389.2 565.9L391.2 566.3L393.3 566.5L395.4 565.7L397.5 566.2L399.6 566.1L401.7 565.9L403.8 565.1L405.8 564.7L407.9 564.6L410.0 564.4L412.0 564.3L414.0 564.6L415.9 564.7L417.9 564.4L419.9 563.8L421.9 563.8L423.9 563.8L425.9 562.8L427.9 563.3L429.8 563.4L431.8 563.0L433.8 562.8L435.9 562.5L437.9 562.1L439.9 562.8L442.0 562.3L444.1 562.9L446.1 563.1L448.1 562.4L450.2 562.4L452.2 563.0L454.3 562.8L456.4 562.1L458.4 562.1L460.4 562.1L462.5 563.0L464.5 562.6L466.4 561.6L468.4 562.2L470.4 562.2L472.3 561.6L474.3 561.0L476.2 561.0L478.2 560.3L480.2 559.9L482.1 560.9L484.1 560.2L486.1 559.9L488.0 560.1L490.0 559.3L491.9 559.7L493.9 559.6L495.8 558.7L497.8 558.7L499.7 558.6L501.7 558.5L503.6 558.8L505.6 558.3L507.5 558.4L509.4 557.9L511.4 558.7L513.3 558.0L515.3 558.0L517.2 558.0L519.2 558.3L521.1 557.6L523.1 558.1L525.0 557.5L527.1 557.2L529.2 556.8L531.2 555.8L533.3 555.9L535.4 555.2L537.5 554.6L539.6 556.1L541.7 555.9L543.8 556.9L545.8 556.7L547.8 556.1L549.9 555.4L551.9 555.2L553.9 554.8L556.0 554.7L558.0 553.5L560.0 553.6L562.1 552.9L564.2 552.7L566.2 553.0L568.3 552.4L570.4 552.2L572.5 552.2L575.0 553.1L577.5 553.2L579.6 553.5L581.7 553.3L583.8 553.4L585.8 553.6L587.9 553.3L590.0 553.4L591.9 553.2L593.8 553.5L595.6 553.0L597.5 553.1L599.4 552.9L601.3 551.9L603.3 552.2L605.4 552.5L607.4 552.3L609.4 551.3L611.4 551.2L613.5 551.4L615.5 550.9L617.4 551.2L619.3 551.2L621.1 552.0L623.0 552.3L624.9 552.5L626.8 552.1L628.8 553.7L630.7 555.2L632.7 556.6L634.6 558.3L636.6 559.8L638.6 561.5L640.6 563.5L642.6 565.3L644.6 566.6L646.6 567.9L648.6 569.5L650.5 568.4L652.4 568.4L654.2 568.2L656.1 567.9L657.6 567.3L659.0 565.5L660.4 560.0L661.4 545.0L662.3 530.0L663.0 510.0L663.8 480.0L664.5 450.0L665.0 420.0L665.5 395.0L665.9 381.0L667.1 381.0L667.5 395.0L668.0 420.0L668.6 450.0L669.5 480.0L670.6 510.0L671.6 530.0L672.5 545.0L673.2 560.0L673.8 569.0L676.4 577.5L681.7 582.0L686.0 583.5L693.7 584.6L695.7 584.1L697.8 584.2L699.8 584.5L701.9 583.6L703.9 584.1L705.9 583.9L708.0 583.2L710.0 583.5L711.8 583.9L713.7 583.8L715.5 583.3L717.3 584.5L719.2 584.3L721.0 584.6L723.1 583.2L725.1 583.1L727.2 582.5L729.2 583.0L731.3 582.1L733.4 581.6L735.4 581.6L737.5 581.9L739.6 581.8L741.7 581.2L743.8 581.1L745.8 582.1L747.9 581.7L750.0 581.9L752.1 581.2L754.2 581.2L756.2 582.0L758.3 581.7L760.4 581.3L762.5 582.4L764.5 582.0L766.4 582.1L768.4 581.2L770.4 582.1L772.4 581.0L774.3 581.9L776.3 581.4L778.3 581.2L780.3 581.3L782.2 581.7L784.2 580.9L786.2 580.6L788.2 581.0L790.1 580.6L792.1 580.4L794.1 580.4L796.1 580.2L798.0 580.3L800.0 580.4L802.1 580.2L804.2 580.5L806.3 579.8L808.4 579.8L810.4 579.3L812.5 579.3L814.6 578.7L816.7 578.8L818.8 578.3L820.8 579.3L822.9 579.2L824.9 579.0L826.9 579.4L829.0 580.1L831.0 579.3L833.1 580.0L835.2 579.3L837.2 579.2L839.3 579.4L841.4 578.7L843.5 578.7L845.6 578.7L847.7 578.9L849.8 577.9L851.8 578.4L853.9 578.0L856.0 577.8L858.1 577.4L860.1 577.3L862.2 576.9L864.3 576.9L866.4 576.7L868.4 577.5L870.5 576.8L872.6 576.6L874.6 576.5L876.7 577.3L878.8 577.3L880.9 576.9L882.9 576.4L885.0 576.3L886.9 576.4L888.8 576.7L890.6 576.4L892.5 576.8L894.4 576.7L896.2 577.6L898.1 577.7L900.0 577.3L902.1 576.9L904.2 577.8L906.2 577.0L908.3 577.1L910.4 576.7L912.5 577.2L914.6 577.3L916.7 577.3L918.8 577.0L920.8 577.4L922.9 576.8L925.0 577.1L927.1 577.4L929.2 578.3L931.2 578.4L933.3 578.8L935.4 579.7L937.5 580.1L939.4 580.5L941.4 580.5L943.3 580.8L945.2 580.7L947.2 580.8L949.1 581.0L951.0 580.4L953.0 580.3L954.9 581.1L956.8 580.2L958.8 580.9L960.8 580.7L962.9 579.9L965.0 580.7L967.1 580.7L969.2 580.3L971.2 580.3L973.3 580.3L975.4 579.4L977.5 579.7L979.6 579.6L981.7 579.9L983.8 579.8L985.8 579.8L987.9 579.5L990.0 579.9L992.1 579.6L994.2 579.6L996.2 579.1L998.3 578.8L1000.4 579.0L1002.5 579.2L1004.6 578.9L1006.7 579.8L1008.8 579.5L1010.8 579.0L1012.9 578.4L1015.0 577.8L1016.9 577.2L1018.8 576.3L1020.6 576.8L1022.5 576.4L1024.4 575.7L1026.2 575.4L1028.1 575.2L1030.0 574.1L1032.0 574.8L1034.0 574.1L1036.0 573.8L1038.0 574.0L1040.0 574.4L1042.0 573.7L1044.0 574.3L1046.0 574.0L1048.2 574.6L1050.3 575.3L1052.5 576.1L1054.6 576.0L1056.6 575.8L1058.7 575.3L1060.7 575.0L1062.8 574.0L1064.8 573.8L1066.9 573.6L1068.9 573.9L1071.0 573.1L1073.0 573.5L1075.0 573.0L1076.9 573.2L1078.9 573.6L1080.9 574.2L1082.9 574.4L1084.9 574.5L1086.9 574.2L1088.8 574.6L1090.8 574.7L1092.8 574.9L1094.7 574.2L1096.7 573.7L1098.6 572.9L1100.5 572.4L1102.4 571.8L1104.4 571.0L1106.3 570.4L1108.4 570.4L1110.5 570.1L1112.7 569.0L1114.8 568.4L1116.9 567.9L1119.0 567.9L1120.9 568.5L1122.8 569.3L1124.7 570.0L1126.6 570.8L1128.4 573.7L1130.3 576.3L1132.2 579.3L1134.0 582.0L1136.1 584.5L1138.2 586.9L1140.3 589.3L1142.4 591.9L1144.5 593.9L1146.5 595.9L1148.2 596.8L1149.9 597.8L1152.8 596.0L1155.6 590.1L1157.3 585.0L1159.0 580.0L1160.8 568.0L1161.9 562.5L1162.5 550.0L1163.3 540.0L1164.2 520.0L1165.0 500.0L1165.8 480.0L1166.5 456.0L1167.2 430.0L1167.6 400.0L1167.9 378.5L1169.5 378.5L1169.8 400.0L1170.2 430.0L1170.9 456.0L1171.6 480.0L1172.4 500.0L1173.2 520.0L1174.0 540.0L1174.6 560.0L1175.0 580.0L1175.4 592.0L1176.3 602.0L1177.7 609.5L1181.4 617.6L1189.0 619.8L1196.0 620.2L1198.0 620.1L1200.0 620.5L1202.0 620.0L1204.0 620.5L1206.0 620.5L1208.0 620.1L1210.0 620.6L1212.0 620.5L1214.0 620.6L1216.0 620.2L1218.0 620.3L1220.0 620.3L1222.0 620.7L1224.0 620.4L1226.0 620.3L1228.0 620.3L1230.0 620.2L1232.0 620.1L1234.0 620.1L1236.0 620.6L1238.0 620.3L1240.0 620.7L1242.0 620.3L1244.0 620.3L1246.0 620.4L1248.0 620.3L1250.0 620.4L1252.0 620.8L1254.0 620.7L1256.0 620.7L1258.0 620.6L1260.0 620.8L1262.0 620.8L1264.0 620.6L1266.0 620.7L1268.0 620.3L1270.0 620.7L1272.1 620.4L1274.2 620.5L1276.3 620.3L1278.5 619.9L1280.6 619.6L1282.7 620.0L1284.8 619.4L1286.8 619.8L1288.9 619.9L1290.9 620.1L1293.0 620.5L1295.0 620.9L1296.9 620.5L1298.9 620.7L1300.8 620.5L1302.8 620.6L1304.7 620.5L1306.7 620.4L1308.6 620.4L1310.6 620.4L1312.5 620.8L1314.4 620.5L1316.4 620.4L1318.3 620.8L1320.3 620.8L1322.2 620.5L1324.2 620.3L1326.1 620.3L1328.1 620.3L1330.0 620.4L1332.0 620.3L1334.0 620.4L1336.0 620.4L1338.0 620.6L1340.0 620.8L1342.0 620.7L1344.0 620.5L1346.0 620.5L1348.0 620.6L1350.0 620.5L1352.0 620.5L1354.0 620.4L1356.0 620.5L1358.0 620.9L1360.0 620.5L1362.0 620.7L1364.0 620.8L1366.0 620.9L1368.0 620.6L1370.0 620.6L1372.0 620.6L1374.0 620.7L1376.0 620.7L1378.0 621.1L1380.0 621.0L1381.9 621.0L1383.9 620.4L1385.8 620.4L1387.8 620.7L1389.7 620.8L1391.6 620.4L1393.6 620.5L1395.5 620.1L1397.4 620.2L1399.4 620.5L1401.3 620.4L1403.2 620.3L1405.2 620.4L1407.1 619.9L1409.1 619.7L1411.0 619.7L1413.2 620.1L1415.5 620.5L1417.8 620.8L1420.0 620.9L1422.1 620.8L1424.2 620.8L1426.4 620.5L1428.5 620.4L1430.6 620.0L1432.8 620.4L1434.9 619.9L1437.0 620.3L1439.2 620.2L1441.3 620.1L1443.5 620.2L1445.7 620.4L1447.8 620.7L1450.0 620.9L1452.0 620.6L1454.0 620.5L1456.0 620.8L1458.0 620.8L1460.0 620.7L1462.0 620.6L1464.0 620.9L1466.0 620.5L1468.0 620.7L1470.0 620.8L1472.0 621.1L1474.0 620.9L1476.0 621.0L1478.0 620.8L1480.0 620.6L1482.0 620.6L1484.0 621.1L1486.0 620.9L1488.0 620.7L1490.0 620.5L1492.0 620.8L1494.0 620.9L1496.0 620.8L1498.0 620.7L1500.0 620.9L1502.0 621.0L1504.0 620.6L1506.0 620.5L1508.0 620.6L1510.0 620.7L1512.0 620.8L1514.0 620.5L1516.0 620.8L1518.0 620.8L1520.0 620.6L1522.0 620.4L1524.0 620.8L1526.0 620.4L1528.0 620.7L1530.0 620.3L1531.9 620.3L1533.8 620.6L1535.6 620.3L1537.5 620.6L1539.4 620.3L1541.2 620.1L1543.1 620.1L1545.0 620.2" stroke="#04b377" stroke-width="4.1"/>
</g>
<g stroke="#262626" stroke-width="4.4" fill="none" stroke-linecap="square">
<path d="M22.3 23.7 H1547 V1142.7 H22.3 Z" stroke-linejoin="miter"/>
<line x1="22.3" y1="1142" x2="22.3" y2="1152" stroke-linecap="butt"/>
<line x1="1547" y1="1142" x2="1547" y2="1163" stroke-linecap="butt"/>
<line x1="22.7" y1="1143" x2="22.7" y2="1152" stroke-linecap="butt"/>
<line x1="124.3" y1="1143" x2="124.3" y2="1163" stroke-linecap="butt"/>
<line x1="225.9" y1="1143" x2="225.9" y2="1152" stroke-linecap="butt"/>
<line x1="327.5" y1="1143" x2="327.5" y2="1163" stroke-linecap="butt"/>
<line x1="429.2" y1="1143" x2="429.2" y2="1152" stroke-linecap="butt"/>
<line x1="530.8" y1="1143" x2="530.8" y2="1163" stroke-linecap="butt"/>
<line x1="632.4" y1="1143" x2="632.4" y2="1152" stroke-linecap="butt"/>
<line x1="734.0" y1="1143" x2="734.0" y2="1163" stroke-linecap="butt"/>
<line x1="835.6" y1="1143" x2="835.6" y2="1152" stroke-linecap="butt"/>
<line x1="937.3" y1="1143" x2="937.3" y2="1163" stroke-linecap="butt"/>
<line x1="1038.9" y1="1143" x2="1038.9" y2="1152" stroke-linecap="butt"/>
<line x1="1140.5" y1="1143" x2="1140.5" y2="1163" stroke-linecap="butt"/>
<line x1="1242.1" y1="1143" x2="1242.1" y2="1152" stroke-linecap="butt"/>
<line x1="1343.7" y1="1143" x2="1343.7" y2="1163" stroke-linecap="butt"/>
<line x1="1445.4" y1="1143" x2="1445.4" y2="1152" stroke-linecap="butt"/>
<line x1="1547.0" y1="1143" x2="1547.0" y2="1163" stroke-linecap="butt"/>
</g>
<g font-family='"Liberation Serif","Times New Roman",serif' font-weight="bold" fill="#111">
<g text-anchor="middle" font-size="53">
<text transform="translate(124.3 1217.3) scale(0.965 1)">800</text>
<text transform="translate(327.5 1217.3) scale(0.965 1)">700</text>
<text transform="translate(530.8 1217.3) scale(0.965 1)">600</text>
<text transform="translate(734.0 1217.3) scale(0.965 1)">500</text>
<text transform="translate(937.3 1217.3) scale(0.965 1)">400</text>
<text transform="translate(1140.5 1217.3) scale(0.965 1)">300</text>
<text transform="translate(1343.7 1217.3) scale(0.965 1)">200</text>
<text transform="translate(1547.0 1217.3) scale(0.965 1)">100</text>
</g>
<text transform="translate(787 1322.4) scale(0.965 1)" font-size="62" text-anchor="middle">Binging Energy (eV)</text>
<text transform="translate(684 452) scale(0.95 1)" font-size="54">O1s</text>
<text transform="translate(1187.5 482.3) scale(0.95 1)" font-size="54">C1s</text>
<text transform="translate(369 818.2) scale(0.93 1)" font-size="53">F1s</text>
<text transform="translate(1355 732) scale(0.93 1)" font-size="50" font-family='"Liberation Sans",Arial,sans-serif'>Cl2p</text>
<text transform="translate(70 527.6) scale(0.935 1)" font-size="54" fill="#009165">DOAC-S</text>
<text transform="translate(57.5 703.9) scale(0.925 1)" font-size="54" fill="#0a0af0">OAC-P/G</text>
<text transform="translate(62.5 879.5) scale(0.925 1)" font-size="54" fill="#ff1010">OAC-G</text>
<text transform="translate(93.3 1036.6) scale(0.965 1)" font-size="54" fill="#111">OAC</text>
</g>
</svg>
</body></html>
